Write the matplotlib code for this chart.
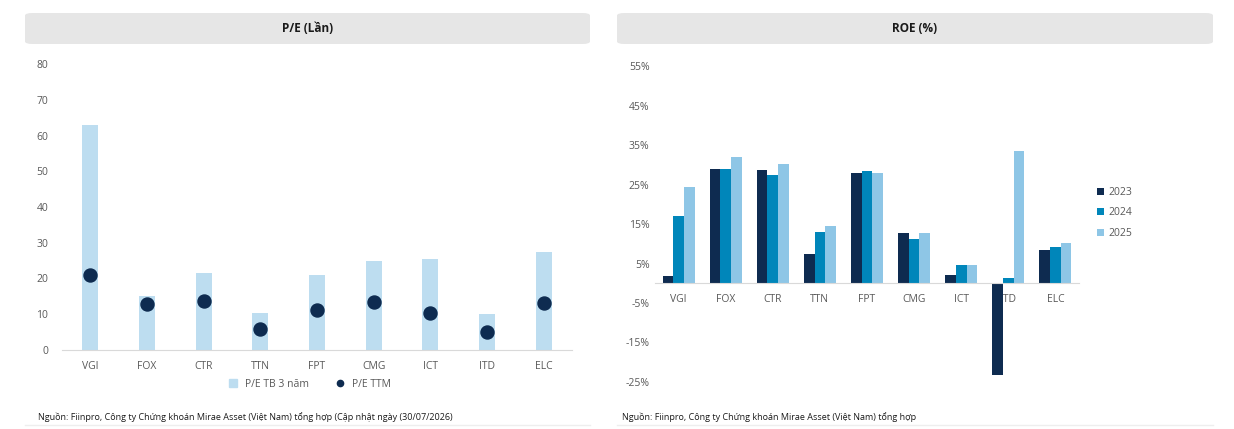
import numpy as np
import matplotlib.pyplot as plt
from matplotlib.patches import FancyBboxPatch
from matplotlib.lines import Line2D
from matplotlib.ticker import FuncFormatter

plt.rcParams['font.family'] = ['Open Sans', 'DejaVu Sans']

tickers = ['VGI', 'FOX', 'CTR', 'TTN', 'FPT', 'CMG', 'ICT', 'ITD', 'ELC']
pe_avg3y = [62.9, 15.2, 21.4, 10.3, 21.0, 24.8, 25.5, 10.1, 27.4]
pe_ttm = [21.0, 12.8, 13.8, 5.9, 11.3, 13.4, 10.3, 4.9, 13.2]

years = ['2023', '2024', '2025']
roe_2023 = [1.9, 28.8, 28.6, 7.3, 27.8, 12.7, 2.2, -23.2, 8.3]
roe_2024 = [17.1, 29.0, 27.5, 13.1, 28.4, 11.3, 4.7, 1.3, 9.3]
roe_2025 = [24.3, 31.9, 30.2, 14.6, 27.9, 12.8, 4.7, 33.5, 10.3]

c_light = '#BDDDF0'
c_navy = '#0E2B50'
c_mid = '#0086BA'
c_sky = '#8EC6E6'
c_text = '#595959'
c_axis = '#D9D9D9'

fig = plt.figure(figsize=(12.34, 4.29), dpi=100)
W, H = 1234, 429


def title_box(x0, x1, text):
    box = FancyBboxPatch((x0 / W, 1 - 44 / H), (x1 - x0) / W, 31 / H,
                         boxstyle='round,pad=0,rounding_size=0.006',
                         transform=fig.transFigure, facecolor='#E6E6E6',
                         edgecolor='none')
    fig.patches.append(box)
    fig.text((x0 + x1) / 2 / W, 1 - 28.5 / H, text, ha='center', va='center',
             fontsize=8.5, fontweight='bold', color='#1a1a1a')


title_box(25, 590, 'P/E (Lần)')
title_box(617, 1213, 'ROE (%)')

x = np.arange(len(tickers))

# P/E chart
ax1 = fig.add_axes([62 / W, 1 - 350 / H, 510 / W, 286 / H])
ax1.bar(x, pe_avg3y, width=0.28, color=c_light, label='P/E TB 3 năm', zorder=2)
ax1.scatter(x, pe_ttm, s=88, color=c_navy, label='P/E TTM', zorder=3)
ax1.set_xlim(-0.5, len(tickers) - 0.5)
ax1.set_ylim(0, 80)
ax1.set_yticks(range(0, 81, 10))
ax1.set_xticks(x)
ax1.set_xticklabels(tickers)
for s in ['top', 'right', 'left']:
    ax1.spines[s].set_visible(False)
ax1.spines['bottom'].set_color(c_axis)
ax1.tick_params(axis='both', length=0, labelsize=7.5, colors=c_text)
ax1.tick_params(axis='y', pad=10)
ax1.tick_params(axis='x', pad=8)
h1 = [Line2D([], [], marker='s', linestyle='none', color=c_light, markersize=6),
      Line2D([], [], marker='o', linestyle='none', color=c_navy, markersize=4.5)]
leg1 = ax1.legend(h1, ['P/E TB 3 năm', 'P/E TTM'], loc='center',
                  bbox_to_anchor=(0.48, -0.12), ncol=2, frameon=False,
                  fontsize=7.5, handletextpad=0.1, columnspacing=2.0)
for t in leg1.get_texts():
    t.set_color(c_text)

# ROE chart
ax2 = fig.add_axes([655 / W, 1 - 382 / H, 424 / W, 316 / H])
bw = 0.227
ax2.bar(x - bw, roe_2023, width=bw, color=c_navy, label=years[0], zorder=2)
ax2.bar(x, roe_2024, width=bw, color=c_mid, label=years[1], zorder=2)
ax2.bar(x + bw, roe_2025, width=bw, color=c_sky, label=years[2], zorder=2)
ax2.set_xlim(-0.5, len(tickers) - 0.5)
ax2.set_ylim(-25, 55)
ax2.set_yticks(range(-25, 56, 10))
ax2.yaxis.set_major_formatter(FuncFormatter(lambda v, p: f'{v:.0f}%'))
for s in ['top', 'right', 'left']:
    ax2.spines[s].set_visible(False)
ax2.spines['bottom'].set_position(('data', 0))
ax2.spines['bottom'].set_color(c_axis)
ax2.set_xticks(x)
ax2.set_xticklabels(tickers)
ax2.tick_params(axis='both', length=0, labelsize=7.5, colors=c_text)
ax2.tick_params(axis='y', pad=4)
ax2.tick_params(axis='x', pad=8)
leg2 = ax2.legend(loc='center left', bbox_to_anchor=(1.02, 0.535), frameon=False,
                  fontsize=7.5, handlelength=0.7, handleheight=0.7,
                  handletextpad=0.4, labelspacing=0.9)
for t in leg2.get_texts():
    t.set_color(c_text)

# footnotes
fig.text(38 / W, 1 - 417 / H,
         'Nguồn: Fiinpro, Công ty Chứng khoán Mirae Asset (Việt Nam) tổng hợp (Cập nhật ngày (30/07/2026)',
         fontsize=6.5, color='#1a1a1a', va='center')
fig.text(622 / W, 1 - 417 / H,
         'Nguồn: Fiinpro, Công ty Chứng khoán Mirae Asset (Việt Nam) tổng hợp',
         fontsize=6.5, color='#1a1a1a', va='center')
fig.add_artist(Line2D([25 / W, 590 / W], [1 - 425 / H] * 2, color='#EEEEEE', lw=1))
fig.add_artist(Line2D([617 / W, 1213 / W], [1 - 425 / H] * 2, color='#EEEEEE', lw=1))

fig.savefig('out.png', dpi=100)
